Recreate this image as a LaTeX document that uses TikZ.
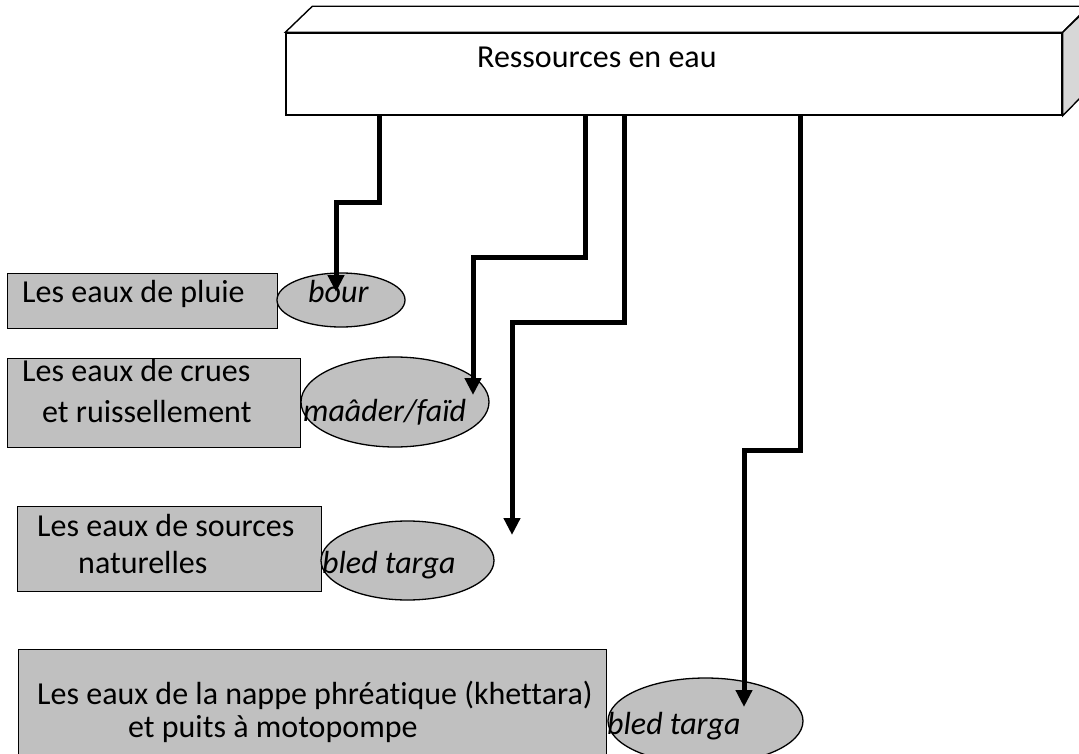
\documentclass[tikz,border=0pt]{standalone}
\usepackage{fontspec}
\setmainfont[Ligatures=NoCommon]{Carlito}
\usetikzlibrary{arrows.meta,shapes.geometric}
\definecolor{boxgray}{RGB}{192,192,192}
\definecolor{sidegray}{RGB}{215,215,215}
\begin{document}
\begin{tikzpicture}[x=1pt,y=-1pt,
  every node/.style={font=\fontsize{32}{38}\selectfont},
  gbox/.style={draw, fill=boxgray, line width=1.3pt, anchor=north west, inner sep=0pt},
  gell/.style={ellipse, draw, fill=boxgray, line width=1.3pt, inner sep=0pt},
  lbl/.style={anchor=base west, inner sep=0pt},
  ilbl/.style={anchor=base west, inner sep=0pt, font=\fontsize{32}{38}\selectfont\itshape},
  arr/.style={line width=5pt, -{Triangle[length=17pt,width=16pt]}}]
\useasboundingbox (0,0) rectangle (1079,754);
\clip (0,0) rectangle (1079,754);
% top 3D box
\node[draw, fill=white, line width=1.4pt, minimum width=776pt, minimum height=82pt, inner sep=0pt] (top) at (674,74) {};
\draw[line width=1.4pt, fill=white] (top.north west) -- ++(27,-26) -- ++(776,0) -- (top.north east) -- cycle;
\draw[line width=1.4pt, fill=sidegray] (top.north east) -- ++(27,-26) -- ++(0,82) -- (top.south east) -- cycle;
\node[lbl] (title) at (477,68) {Ressources en eau};
% rectangles
\node[gbox, minimum width=270pt, minimum height=55pt] (r1) at (7,273) {};
\node[gbox, minimum width=293pt, minimum height=89pt] (r2) at (7,358) {};
\node[gbox, minimum width=304pt, minimum height=85pt] (r3) at (17,506) {};
\node[gbox, minimum width=588pt, minimum height=120pt] (r4) at (18,649) {};
% ellipses
\node[gell, minimum width=128pt, minimum height=54pt] (e1) at (341,300) {};
\node[gell, minimum width=188pt, minimum height=90pt] (e2) at (395,402) {};
\node[gell, minimum width=173pt, minimum height=79pt] (e3) at (407.5,560.5) {};
\node[gell, minimum width=195pt, minimum height=86pt] (e4) at (705.5,721) {};
% texts
\node[lbl] (t1a) at (22,302) {Les eaux de pluie};
\node[ilbl] (t1b) at (308,302) {bour};
\node[lbl] (t2a) at (22,381) {Les eaux de crues};
\node[lbl] (t2b) at (42,422) {et ruissellement};
\node[ilbl] (t2c) at (303,421) {maâder/faïd};
\node[lbl] (t3a) at (37,536) {Les eaux de sources};
\node[lbl] (t3b) at (78,573) {naturelles};
\node[ilbl] (t3c) at (322,573) {bled targa};
\node[lbl] (t4a) at (37,704) {Les eaux de la nappe phréatique (khettara)};
\node[lbl] (t4b) at (128,737) {et puits à motopompe};
\node[ilbl] (t4c) at (607,734) {bled targa};
% arrows
\coordinate (p1) at (336,292);
\coordinate (p2) at (473,395);
\coordinate (p3) at (512,535);
\coordinate (p4) at (744,707);
\draw[arr] ([xshift=94pt]top.south west) -- ++(0,87) -| (p1);
\draw[arr] ([xshift=300pt]top.south west) -- ++(0,142) -| (p2);
\draw[arr] ([xshift=339pt]top.south west) -- ++(0,207) -| (p3);
\draw[arr] ([xshift=515pt]top.south west) -- ++(0,335) -| (p4);
\end{tikzpicture}
\end{document}
